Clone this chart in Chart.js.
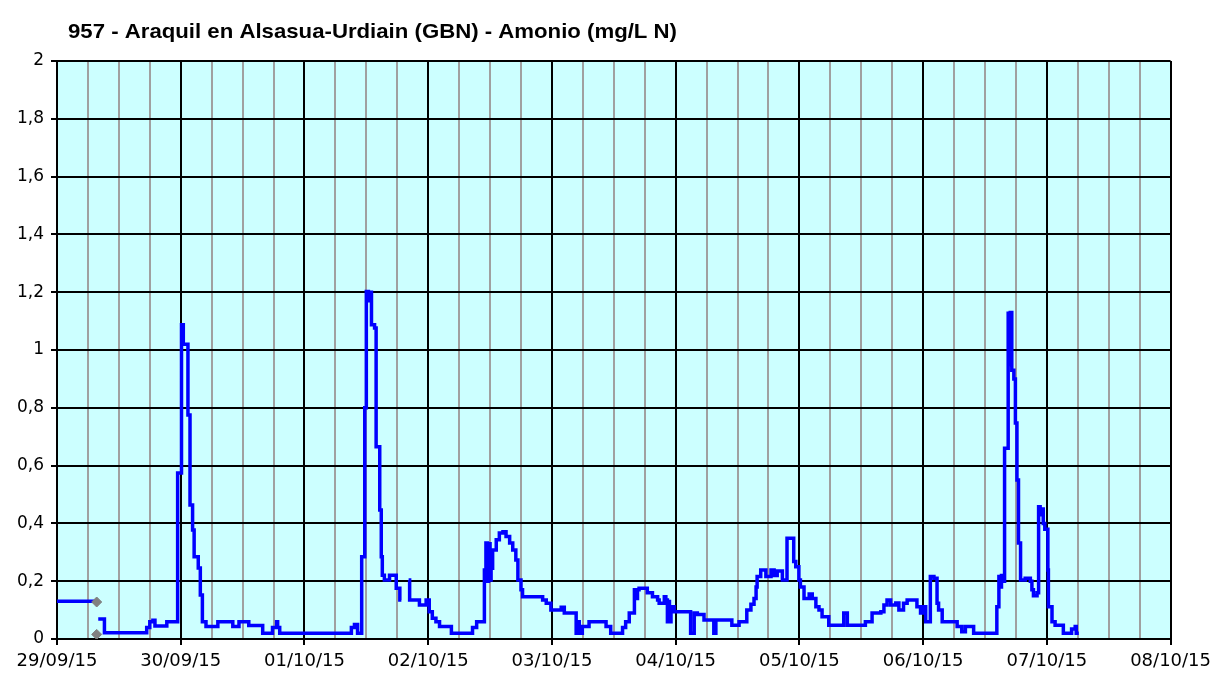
<!DOCTYPE html>
<html>
<head>
<meta charset="utf-8">
<script src="https://cdn.jsdelivr.net/npm/chart.js@4.4.1/dist/chart.umd.min.js"></script>
<style>
  html, body { margin: 0; padding: 0; background: #fff; }
  #wrap { width: 1217px; height: 673px; }
</style>
</head>
<body>
<div id="wrap"><canvas id="chartAmonio" width="1217" height="673"></canvas></div>
<script>
const chartTitle = '957 - Araquil en Alsasua-Urdiain (GBN) - Amonio (mg/L N)';

// x tick labels, one per day (hours from 29/09/15 00:00)
const dayLabels = ['29/09/15', '30/09/15', '01/10/15', '02/10/15', '03/10/15',
                   '04/10/15', '05/10/15', '06/10/15', '07/10/15', '08/10/15'];

// hours since 29/09/15 00:00 -- null values = gaps in the record
const hours = [
  0, 7.6, 7.8,
  8.0, 9.2, 17.4, 18.0, 18.6, 19.0, 21.3, 23.4, 24.15, 24.5, 25.4, 25.8, 26.3, 26.6, 27.4, 27.8, 28.2, 28.9,
  31.2, 34.1, 35.3, 37.2, 39.9, 41.8, 42.6, 42.8, 43.2, 57.1, 57.7, 58.3, 59.1, 59.7, 60.0, 60.4, 60.6, 61.0,
  61.6, 61.9, 62.6, 62.9, 63.1, 63.5, 64.5, 65.8, 66.5, 66.8, 67.5,
  68.2, 68.4, 70.3, 71.6, 72.2, 72.8, 73.5, 74.2, 76.5, 80.6, 81.4, 82.9, 83.2, 83.5, 83.7, 84.0, 84.2, 84.5,
  85.2, 85.8, 86.5, 87.1, 87.8, 88.4, 89.0, 89.4, 90.0, 90.3, 94.2, 94.9, 95.8, 97.8, 98.4, 100.7, 101.1, 101.3,
  101.9, 103.2, 106.5, 107.4, 109.7, 110.3, 111.0, 112.0, 112.3, 112.6, 112.9, 114.5, 115.5, 116.5, 116.8, 117.8,
  118.1, 118.4, 118.6, 118.8, 119.1, 119.7, 122.9, 123.6, 124.2, 125.5, 127.4, 127.8, 130.9, 132.3, 133.8, 134.6,
  135.2, 135.6, 135.8, 136.5, 137.5, 138.5, 139.1, 139.7, 140.7, 141.6, 142.6, 142.9, 143.3, 143.9, 144.2, 144.9,
  145.9, 146.5, 147.2, 147.8, 148.4, 149.7, 152.6, 153.3, 156.8, 158.1, 159.8, 160.4, 161.0, 161.7, 162.7, 163.3,
  164.2, 164.9, 166.8, 167.5, 168.1, 168.5, 169.4, 170.1, 170.7, 171.0, 171.7, 174.6, 175.5, 176.2, 177.8, 182.3,
  182.7, 183.0, 183.2, 183.6, 183.8, 184.5, 184.7, 184.9, 185.2, 185.6, 185.9, 186.2, 186.5, 186.9, 187.8, 188.8,
  189.1, 189.4, 190.1, 190.4, 190.7, 191.0, 191.3, 191.6, 192.2, 192.3, 193.0, 193.6, 195.2, 196.8, 197.5, 197.7,
  198.2
];

// ammonium, mg/L N
const amonio = [
  0.131, 0.131, null,
  0.069, 0.022, 0.04, 0.06, 0.065, 0.045, 0.06, 0.574, 1.087, 1.02, 0.775, 0.464, 0.377, 0.285, 0.246, 0.152, 0.06, 0.043,
  0.06, 0.043, 0.06, 0.047, 0.02, 0.04, 0.06, 0.04, 0.02, 0.04, 0.05, 0.02, 0.285, 0.8, 1.202, 1.17, 1.2, 1.087,
  1.076, 0.665, 0.446, 0.285, 0.221, 0.204, 0.221, 0.176, 0.135, 0.135, null,
  0.204, 0.135, 0.118, 0.135, 0.094, 0.072, 0.06, 0.043, 0.02, 0.04, 0.06, 0.239, 0.332, 0.2, 0.33, 0.204, 0.245, 0.308,
  0.343, 0.367, 0.371, 0.355, 0.332, 0.308, 0.273, 0.204, 0.17, 0.146, 0.135, 0.124, 0.1, 0.11, 0.09, 0.02, 0.06, 0.02,
  0.043, 0.06, 0.043, 0.02, 0.04, 0.06, 0.09, 0.17, 0.14, 0.17, 0.176, 0.16, 0.146, 0.135, 0.124, 0.146,
  0.135, 0.06, 0.13, 0.06, 0.112, 0.094, 0.02, 0.09, 0.085, 0.066, 0.02, 0.066, 0.048, 0.06, 0.1, 0.12,
  0.14, 0.18, 0.216, 0.239, 0.216, 0.239, 0.22, 0.235, 0.204, 0.349, 0.349, 0.268, 0.25, 0.204, 0.18, 0.14,
  0.156, 0.14, 0.112, 0.1, 0.077, 0.048, 0.09, 0.048, 0.06, 0.09, 0.094, 0.118, 0.135, 0.118, 0.125, 0.1,
  0.124, 0.135, 0.112, 0.09, 0.112, 0.06, 0.216, 0.21, 0.124, 0.1, 0.06, 0.043, 0.025, 0.043, 0.02, 0.112,
  0.216, 0.18, 0.22, 0.2, 0.66, 1.127, 0.95, 1.13, 0.93, 0.9, 0.747, 0.55, 0.332, 0.204, 0.21, 0.2,
  0.17, 0.15, 0.16, 0.458, 0.43, 0.45, 0.4, 0.38, 0.239, 0.112, 0.06, 0.048, 0.02, 0.035, 0.043, 0.02,
  0.02
];

// the two grey markers at the end of the first stretch
const markerHours = [7.7, 7.7];
const markerValues = [0.128, 0.016];

const yTicksStep = 0.2;

const plotBg = {
    id: 'plotBg',
    beforeDraw(chart) {
        const { ctx, chartArea: a } = chart;
        ctx.save();
        ctx.fillStyle = '#CCFFFF';
        ctx.fillRect(a.left, a.top, a.right - a.left, a.bottom - a.top);
        ctx.restore();
    }
};

const titleText = {
    id: 'titleText',
    afterDraw(chart) {
        const ctx = chart.ctx;
        ctx.save();
        ctx.font = 'bold 21px "Liberation Sans", Arial, sans-serif';
        ctx.fillStyle = '#000';
        ctx.textBaseline = 'alphabetic';
        const w = ctx.measureText(chartTitle).width;
        ctx.translate(68, 38);
        ctx.scale(609 / w, 1);
        ctx.fillText(chartTitle, 0, 0);
        ctx.restore();
    }
};

new Chart(document.getElementById('chartAmonio'), {
    type: 'line',
    data: {
        datasets: [{
            label: 'marcas',
            data: markerHours.map((h, i) => ({ x: h, y: markerValues[i] })),
            showLine: false,
            pointStyle: 'rectRot',
            pointRadius: 5,
            pointBackgroundColor: '#808080',
            pointBorderColor: '#808080',
            order: 0
        }, {
            label: 'Amonio',
            data: hours.map((h, i) => ({ x: h, y: amonio[i] })),
            borderColor: '#0000FF',
            borderWidth: 3.5,
            stepped: 'before',
            pointRadius: 0,
            spanGaps: false,
            fill: false,
            order: 1
        }]
    },
    options: {
        responsive: false,
        animation: false,
        layout: { padding: { left: 0, top: 61, right: 45, bottom: 0 } },
        plugins: {
            legend: { display: false },
            tooltip: { enabled: false },
            title: { display: false }
        },
        scales: {
            x: {
                type: 'linear',
                min: 0,
                max: 216,
                afterFit(scale) { scale.height = 34; },
                border: { color: '#000', width: 2 },
                grid: {
                    color: c => (c.tick && c.tick.value % 24 === 0) ? '#000000' : '#A0A0A0',
                    lineWidth: 2,
                    tickLength: 6,
                    tickColor: c => (c.tick && c.tick.value % 24 === 0) ? '#000000' : 'rgba(0,0,0,0)'
                },
                ticks: {
                    stepSize: 6,
                    autoSkip: false,
                    maxRotation: 0,
                    padding: 6,
                    color: '#000',
                    font: { family: '"DejaVu Sans", Verdana, sans-serif', size: 18 },
                    callback: v => (v % 24 === 0) ? dayLabels[v / 24] : ''
                }
            },
            y: {
                min: 0,
                max: 2,
                afterFit(scale) { scale.width = 57; },
                border: { color: '#000', width: 2 },
                grid: {
                    color: '#000000',
                    lineWidth: 2,
                    tickLength: 6,
                    tickColor: '#000000'
                },
                ticks: {
                    stepSize: yTicksStep,
                    padding: 7,
                    color: '#000',
                    font: { family: '"DejaVu Sans", Verdana, sans-serif', size: 17 },
                    callback: v => (Math.round(v * 10) / 10).toString().replace('.', ',')
                }
            }
        }
    },
    plugins: [plotBg, titleText]
});
</script>
</body>
</html>
